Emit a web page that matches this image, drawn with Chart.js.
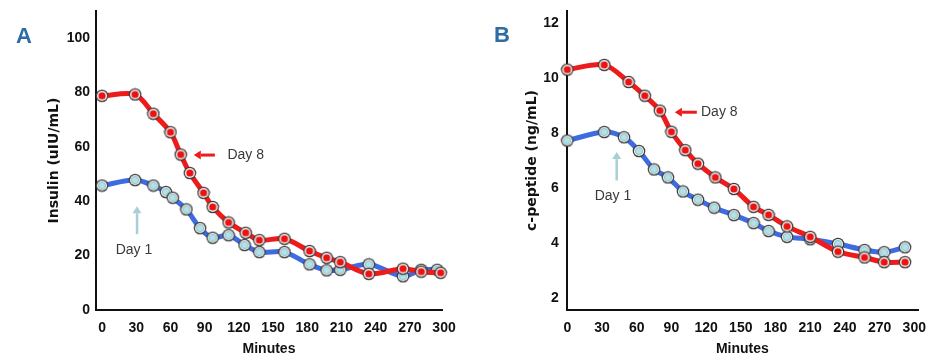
<!DOCTYPE html>
<html>
<head>
<meta charset="utf-8">
<script src="https://cdn.jsdelivr.net/npm/chart.js@4"></script>
<style>
  body { margin: 0; background: #fff; }
  #wrap { display: flex; width: 938px; height: 360px; }
  canvas { display: block; }
</style>
</head>
<body>
<div id="wrap">
  <canvas id="chartA" width="470" height="360"></canvas>
  <canvas id="chartB" width="468" height="360"></canvas>
</div>
<script>
// tick labels
const minuteTicks = [0, 30, 60, 90, 120, 150, 180, 210, 240, 270, 300];
const insulinTicks = [0, 20, 40, 60, 80, 100];
const cpepTicks = [2, 4, 6, 8, 10, 12];

// panel A - insulin (uIU/mL)
const minutesA8 = [0, 29, 45, 60, 69, 77, 89, 97, 111, 126, 138, 160, 182, 197, 209, 234, 264, 280, 297];
const insulinDay8 = [78.8, 79.3, 72.2, 65.4, 57.2, 50.4, 43.1, 37.9, 32.2, 28.4, 25.7, 26.2, 21.7, 19.2, 17.6, 13.3, 15.2, 14.1, 13.7];
const minutesA1 = [0, 29, 45, 56, 62, 74, 86, 97, 111, 125, 138, 160, 182, 197, 209, 234, 264, 280, 294];
const insulinDay1 = [45.8, 47.8, 45.8, 43.4, 41.3, 37.0, 30.1, 26.6, 27.5, 23.9, 21.3, 21.3, 16.8, 14.6, 14.8, 16.8, 12.4, 14.8, 14.8];

// panel B - c-peptide (ng/mL)
const minutesB8 = [0, 32, 53, 67, 80, 90, 102, 113, 128, 144, 161, 174, 190, 210, 234, 257, 274, 292];
const cpepDay8 = [10.32, 10.49, 9.87, 9.37, 8.83, 8.06, 7.39, 6.90, 6.40, 5.98, 5.33, 5.04, 4.62, 4.24, 3.70, 3.49, 3.32, 3.32];
const minutesB1 = [0, 32, 49, 62, 75, 87, 100, 113, 127, 144, 161, 174, 190, 210, 234, 257, 274, 292];
const cpepDay1 = [7.74, 8.05, 7.86, 7.36, 6.69, 6.40, 5.89, 5.59, 5.30, 5.03, 4.74, 4.45, 4.24, 4.15, 3.98, 3.76, 3.68, 3.86];

const RED = '#ee1b1b';
const BLUE = '#3e6be0';
const tickFont = '"Liberation Sans", Arial, sans-serif';

// ringed marker drawn once and reused as pointStyle
function marker(inner, innerEdge) {
  const c = document.createElement('canvas');
  c.width = 14; c.height = 14;
  const g = c.getContext('2d');
  g.beginPath(); g.arc(7, 7, 6.3, 0, Math.PI * 2); g.fillStyle = '#3b3b3b'; g.fill();
  g.beginPath(); g.arc(7, 7, 5.1, 0, Math.PI * 2); g.fillStyle = '#efefef'; g.fill();
  g.beginPath(); g.arc(7, 7, 3.6, 0, Math.PI * 2); g.fillStyle = inner; g.fill();
  if (innerEdge) { g.lineWidth = 0.8; g.strokeStyle = innerEdge; g.stroke(); }
  return c;
}
const redDot = marker('#ee1111');
const blueDot = marker('#b2e2e9', '#86b6be');

function pts(xs, ys) {
  return xs.map((x, i) => ({ x: x, y: ys[i] }));
}

// panel letter, arrows and Day labels
const notesPlugin = {
  id: 'notes',
  afterDraw(chart, args, opts) {
    const ctx = chart.ctx;
    const xs = chart.scales.x, ys = chart.scales.y;
    ctx.save();
    ctx.font = 'bold 22px "Liberation Sans", Arial, sans-serif';
    ctx.fillStyle = '#2f6ca6';
    ctx.textAlign = 'center';
    ctx.textBaseline = 'middle';
    ctx.fillText(opts.letter, opts.letterX, opts.letterY);

    ctx.font = '14px ' + tickFont;
    ctx.fillStyle = '#3a3a3a';
    opts.labels.forEach(l => {
      ctx.textAlign = l.align;
      ctx.fillText(l.text, xs.getPixelForValue(l.x), ys.getPixelForValue(l.y));
    });

    opts.arrows.forEach(a => {
      const x1 = xs.getPixelForValue(a.from[0]), y1 = ys.getPixelForValue(a.from[1]);
      const x2 = xs.getPixelForValue(a.to[0]), y2 = ys.getPixelForValue(a.to[1]);
      const ang = Math.atan2(y2 - y1, x2 - x1);
      const head = 7;
      ctx.strokeStyle = a.color;
      ctx.fillStyle = a.color;
      ctx.lineWidth = a.width;
      ctx.beginPath();
      ctx.moveTo(x1, y1);
      ctx.lineTo(x2 - Math.cos(ang) * head, y2 - Math.sin(ang) * head);
      ctx.stroke();
      ctx.beginPath();
      ctx.moveTo(x2, y2);
      ctx.lineTo(x2 - Math.cos(ang) * head - Math.sin(ang) * 4.5, y2 - Math.sin(ang) * head + Math.cos(ang) * 4.5);
      ctx.lineTo(x2 - Math.cos(ang) * head + Math.sin(ang) * 4.5, y2 - Math.sin(ang) * head - Math.cos(ang) * 4.5);
      ctx.closePath();
      ctx.fill();
    });
    ctx.restore();
  }
};

function makeChart(id, cfg) {
  return new Chart(document.getElementById(id), {
    type: 'line',
    data: {
      datasets: [
        {
          label: 'Day 8', data: cfg.day8, borderColor: RED, borderWidth: 5,
          tension: 0.3, pointStyle: redDot, pointRadius: 6, clip: false
        },
        {
          label: 'Day 1', data: cfg.day1, borderColor: BLUE, borderWidth: 5,
          tension: 0.3, pointStyle: blueDot, pointRadius: 6, clip: false
        }
      ]
    },
    options: {
      responsive: false,
      animation: false,
      devicePixelRatio: 1,
      layout: { padding: cfg.padding },
      plugins: {
        legend: { display: false },
        tooltip: { enabled: false },
        notes: cfg.notes
      },
      scales: {
        x: {
          type: 'linear',
          min: cfg.xMin, max: cfg.xMax,
          afterBuildTicks: s => { s.ticks = minuteTicks.map(v => ({ value: v })); },
          afterFit: s => { s.height = 50; s.paddingLeft = 0; s.paddingRight = 0; },
          grid: { display: false, drawTicks: false },
          border: { display: true, color: '#111', width: 2 },
          ticks: { autoSkip: false, maxRotation: 0, padding: 10, color: '#111', font: { family: tickFont, size: 14, weight: 'bold' } },
          title: { display: true, text: 'Minutes', color: '#111', padding: { top: 0, bottom: 2 }, font: { family: tickFont, size: 14, weight: 'bold' } }
        },
        y: {
          min: cfg.yMin, max: cfg.yMax,
          afterBuildTicks: s => { s.ticks = cfg.yTicks.map(v => ({ value: v })); },
          afterFit: s => { s.width = cfg.yWidth; s.paddingTop = 0; s.paddingBottom = 0; },
          grid: { display: false, drawTicks: false },
          border: { display: true, color: '#111', width: 2 },
          ticks: { autoSkip: false, padding: cfg.yPad, color: '#111', font: { family: tickFont, size: 14, weight: 'bold' } },
          title: { display: true, text: cfg.yTitle, color: '#111', padding: { top: cfg.titleTop, bottom: 0 }, font: { family: '"DejaVu Sans", sans-serif', size: 14, weight: 'bold' } }
        }
      }
    },
    plugins: [notesPlugin]
  });
}

makeChart('chartA', {
  day8: pts(minutesA8, insulinDay8),
  day1: pts(minutesA1, insulinDay1),
  xMin: -5.3, xMax: 298.2,
  yMin: 0, yMax: 110, yTicks: insulinTicks,
  yWidth: 96, yPad: 6, titleTop: 46,
  yTitle: 'Insulin (uIU/mL)',
  padding: { left: 0, right: 28, top: 10, bottom: 0 },
  notes: {
    letter: 'A', letterX: 24, letterY: 37,
    labels: [
      { text: 'Day 8', x: 110, y: 57, align: 'left' },
      { text: 'Day 1', x: 28, y: 22, align: 'center' }
    ],
    arrows: [
      { from: [99, 57], to: [80.5, 57], color: RED, width: 3 },
      { from: [30.7, 27.9], to: [30.7, 38.2], color: '#a9cfd6', width: 2.5 }
    ]
  }
});

makeChart('chartB', {
  day8: pts(minutesB8, cpepDay8),
  day1: pts(minutesB1, cpepDay1),
  xMin: -0.5, xMax: 303.2,
  yMin: 1.58, yMax: 12.45, yTicks: cpepTicks,
  yWidth: 96.7, yPad: 8, titleTop: 54,
  yTitle: 'c-peptide (ng/mL)',
  padding: { left: 0, right: 20, top: 3, bottom: 0 },
  notes: {
    letter: 'B', letterX: 32, letterY: 36,
    labels: [
      { text: 'Day 8', x: 115.6, y: 8.77, align: 'left' },
      { text: 'Day 1', x: 39.5, y: 5.72, align: 'center' }
    ],
    arrows: [
      { from: [112, 8.77], to: [93, 8.77], color: RED, width: 3 },
      { from: [42.7, 6.29], to: [42.7, 7.32], color: '#a9cfd6', width: 2.5 }
    ]
  }
});
</script>
</body>
</html>
